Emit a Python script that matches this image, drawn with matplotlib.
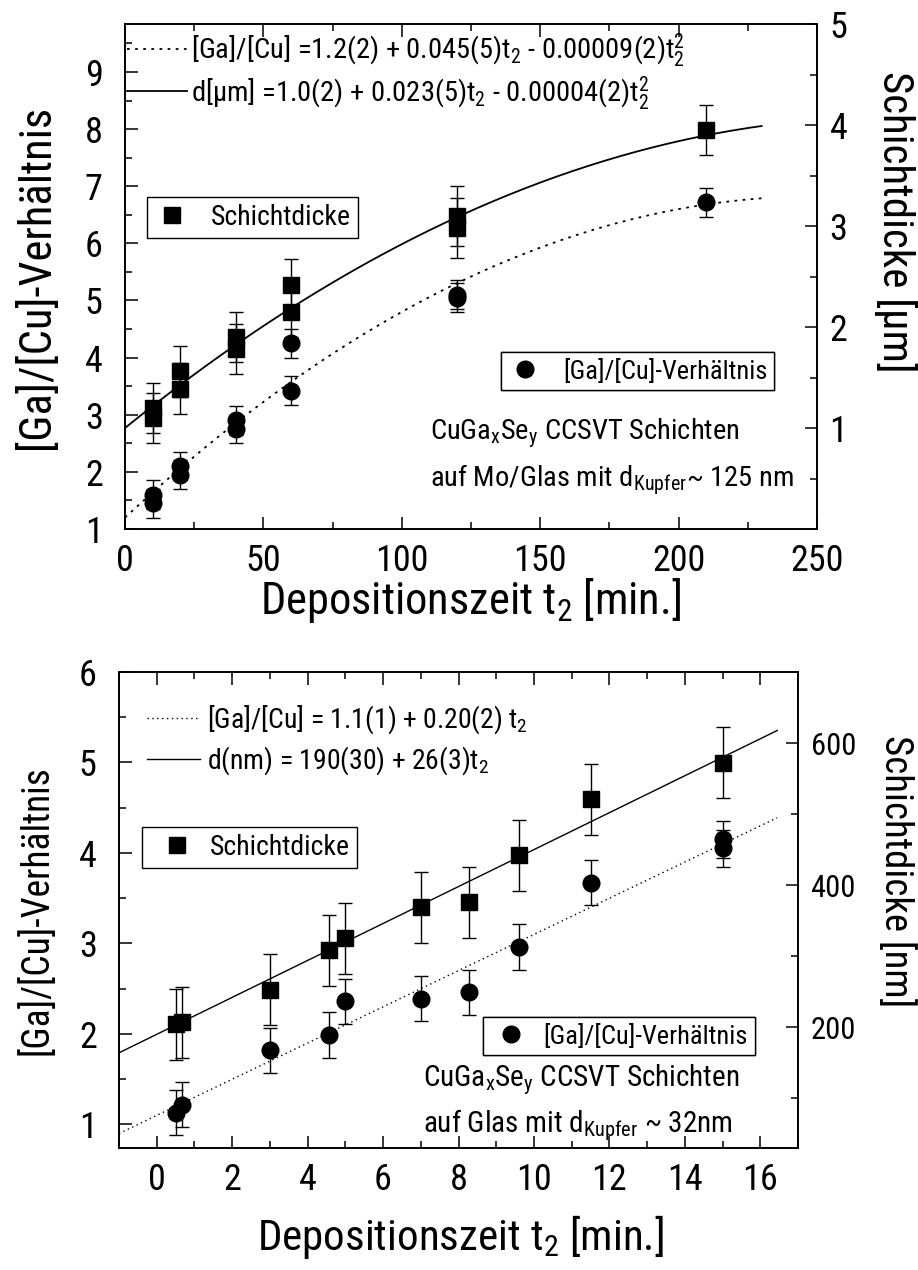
import matplotlib
matplotlib.use("Agg")
import matplotlib.pyplot as plt
import numpy as np
from matplotlib import font_manager
from matplotlib.lines import Line2D

# ---- data, top panel (t2 in min) ----
top_sq_t = [10, 10, 20, 20, 40, 40, 60, 60, 120, 120, 210]
top_sq_d = [1.2, 1.1, 1.56, 1.39, 1.9, 1.78, 2.42, 2.15, 3.1, 2.98, 3.95]
top_sq_err = [0.25, 0.25, 0.25, 0.25, 0.25, 0.25, 0.25, 0.25, 0.3, 0.3, 0.25]
top_ci_t = [10, 10, 20, 20, 40, 40, 60, 60, 120, 120, 210]
top_ci_r = [1.6, 1.45, 2.1, 1.95, 2.9, 2.75, 4.25, 3.42, 5.1, 5.05, 6.72]
top_ci_err = [0.25, 0.25, 0.25, 0.25, 0.25, 0.25, 0.25, 0.25, 0.25, 0.25, 0.25]
top_fit_r = [1.2, 0.045, -0.00009]
top_fit_d = [1.0, 0.0222, -0.00004]

# ---- data, bottom panel ----
bot_sq_t = [0.5, 0.66, 3.0, 4.57, 5.0, 7.0, 8.27, 9.6, 11.5, 15.0]
bot_sq_d = [204, 207, 253, 308, 325, 369, 376, 442, 521, 572]
bot_sq_err = [50, 50, 50, 50, 50, 50, 50, 50, 50, 50]
bot_ci_t = [0.5, 0.66, 3.0, 4.57, 5.0, 7.0, 8.27, 9.6, 11.5, 15.0, 15.0]
bot_ci_r = [1.13, 1.22, 1.82, 1.99, 2.36, 2.39, 2.46, 2.96, 3.67, 4.15, 4.05]
bot_ci_err = [0.25, 0.25, 0.25, 0.25, 0.25, 0.25, 0.25, 0.25, 0.25, 0.2, 0.2]
bot_fit_r = [1.1, 0.20]
bot_fit_d = [190, 26]

avail = {f.name for f in font_manager.fontManager.ttflist}
FONT = "Liberation Sans"
for cand in ["Liberation Sans Narrow", "Arial Narrow", "Roboto Condensed", "Liberation Sans"]:
    if cand in avail:
        FONT = cand
        break
plt.rcParams["font.family"] = [FONT, "DejaVu Sans"]
plt.rcParams["mathtext.fontset"] = "custom"
plt.rcParams["mathtext.rm"] = FONT
plt.rcParams["mathtext.it"] = FONT
plt.rcParams["mathtext.default"] = "regular"

W, H = 918, 1270
fig = plt.figure(figsize=(W / 100, H / 100), dpi=100)


def box(l, t, r, b):
    return [l / W, 1 - b / H, (r - l) / W, (b - t) / H]


def fpos(x, y):
    return x / W, 1 - y / H


def style(ax, ax2, rsize):
    for a in (ax, ax2):
        for s in a.spines.values():
            s.set_linewidth(1.2)
    ax.tick_params(which="both", direction="in", top=True, right=False, width=1.1)
    ax.tick_params(which="major", length=9)
    ax.tick_params(which="minor", length=5)
    ax.tick_params(axis="y", pad=16, labelsize=26)
    ax.tick_params(axis="x", pad=10, labelsize=26)
    ax2.tick_params(which="both", direction="in", width=1.1, labelsize=rsize, pad=9)
    ax2.tick_params(which="major", length=9)
    ax2.tick_params(which="minor", length=5)


def marker_legend(ax, marker, label, x, y, size, hl, hp):
    lg = ax.legend([Line2D([], [], marker=marker, color="k", ls="none", ms=12)], [label],
                   loc="upper left", bbox_to_anchor=fpos(x, y), bbox_transform=fig.transFigure,
                   fontsize=size, fancybox=False, edgecolor="k", framealpha=1,
                   borderaxespad=0, borderpad=0.25, handlelength=hl, handletextpad=hp)
    lg.get_frame().set_linewidth(1.0)
    ax.add_artist(lg)
    return lg


eb = dict(color="k", capsize=5, elinewidth=1, capthick=1, ls="none")

# ================= top panel =================
ax = fig.add_axes(box(125, 24, 817, 529))
ax2 = ax.twinx()
style(ax, ax2, 26)
ax.set_xlim(0, 250)
ax.set_ylim(1, 9.84)
ax2.set_ylim(0, 5)
ax.set_xticks(np.arange(0, 251, 50))
ax.set_xticks(np.arange(0, 251, 25), minor=True)
ax.set_yticks(np.arange(1, 10))
ax.set_yticks(np.arange(1, 10, 0.5), minor=True)
ax2.set_yticks(np.arange(1, 6))
ax2.set_yticks(np.arange(0.5, 5, 0.5), minor=True)

tt = np.linspace(0, 230, 200)
ax.plot(tt, np.polyval(top_fit_r[::-1], tt), color="k", ls=(0, (1.5, 3)), lw=1.3)
ax2.plot(tt, np.polyval(top_fit_d[::-1], tt), color="k", ls="-", lw=1.3)
ax.errorbar(top_ci_t, top_ci_r, yerr=top_ci_err, fmt="o", ms=12, **eb)
ax2.errorbar(top_sq_t, top_sq_d, yerr=top_sq_err, fmt="s", ms=12, **eb)

fl = ax.legend([Line2D([], [], color="k", ls=(0, (1.5, 3)), lw=1.3),
                Line2D([], [], color="k", lw=1.3)],
               ["[Ga]/[Cu] =1.2(2) + 0.045(5)t$_2$ - 0.00009(2)t$_2^2$",
                "d[\u00b5m] =1.0(2) + 0.023(5)t$_2$ - 0.00004(2)t$_2^2$"],
               loc="upper left", bbox_to_anchor=fpos(127, 31), bbox_transform=fig.transFigure,
               frameon=False, fontsize=20.5, handlelength=2.1, handletextpad=0.15,
               labelspacing=0.16, borderpad=0, borderaxespad=0)
ax.add_artist(fl)
marker_legend(ax, "s", "Schichtdicke", 147, 197, 20, 1.3, 0.76)
marker_legend(ax, "o", "[Ga]/[Cu]-Verh\u00e4ltnis", 501, 352, 19, 1.3, 0.8)

fig.text(*fpos(430, 433), "CuGa$_x$Se$_y$ CCSVT Schichten", fontsize=20.5, va="center", ha="left")
fig.text(*fpos(430, 480), "auf Mo/Glas mit d$_{Kupfer}$~ 125 nm", fontsize=20.5, va="center", ha="left")
fig.text(*fpos(37, 277), "[Ga]/[Cu]-Verh\u00e4ltnis", fontsize=32, rotation=90, va="center", ha="center")
fig.text(*fpos(896, 222), "Schichtdicke [\u00b5m]", fontsize=31, rotation=270, va="center", ha="center")
fig.text(*fpos(470, 600), "Depositionszeit t$_2$ [min.]", fontsize=32, va="center", ha="center")

# ================= bottom panel =================
bx = fig.add_axes(box(119, 672, 798, 1148))
bx2 = bx.twinx()
style(bx, bx2, 22)
bx.set_xlim(-1, 17)
bx.set_ylim(0.74, 6)
bx2.set_ylim(30, 700)
bx.set_xticks(np.arange(0, 17, 2))
bx.set_xticks(np.arange(-1, 18, 1), minor=True)
bx.set_yticks(np.arange(1, 7))
bx.set_yticks(np.arange(1, 6.01, 0.5), minor=True)
bx2.set_yticks([200, 400, 600])
bx2.set_yticks([100, 300, 500, 700], minor=True)

tb = np.linspace(-1, 16.45, 50)
bx.plot(tb, np.polyval(bot_fit_r[::-1], tb), color="k", ls=(0, (1, 2.5)), lw=1.0)
bx2.plot(tb, np.polyval(bot_fit_d[::-1], tb), color="k", ls="-", lw=1.0)
bx.errorbar(bot_ci_t, bot_ci_r, yerr=bot_ci_err, fmt="o", ms=12, **eb)
bx2.errorbar(bot_sq_t, bot_sq_d, yerr=bot_sq_err, fmt="s", ms=12, **eb)

fl2 = bx.legend([Line2D([], [], color="k", ls=(0, (1, 2.5)), lw=1.0),
                 Line2D([], [], color="k", lw=1.0)],
                ["[Ga]/[Cu] = 1.1(1) + 0.20(2) t$_2$", "d(nm) = 190(30) + 26(3)t$_2$"],
                loc="upper left", bbox_to_anchor=fpos(147, 703), bbox_transform=fig.transFigure,
                frameon=False, fontsize=20, handlelength=1.9, handletextpad=0.25,
                labelspacing=0.3, borderpad=0, borderaxespad=0)
bx.add_artist(fl2)
marker_legend(bx, "s", "Schichtdicke", 142, 827, 20, 2.0, 0.2)
marker_legend(bx, "o", "[Ga]/[Cu]-Verh\u00e4ltnis", 483, 1017, 19, 1.6, 0.45)

fig.text(*fpos(423, 1080), "CuGa$_x$Se$_y$ CCSVT Schichten", fontsize=21, va="center", ha="left")
fig.text(*fpos(423, 1125), "auf Glas mit d$_{Kupfer}$ ~ 32nm", fontsize=21, va="center", ha="left")
fig.text(*fpos(37, 910), "[Ga]/[Cu]-Verh\u00e4ltnis", fontsize=27, rotation=90, va="center", ha="center")
fig.text(*fpos(896, 871), "Schichtdicke [nm]", fontsize=28, rotation=270, va="center", ha="center")
fig.text(*fpos(460, 1237), "Depositionszeit t$_2$ [min.]", fontsize=31, va="center", ha="center")

fig.savefig("out.png", dpi=100)
